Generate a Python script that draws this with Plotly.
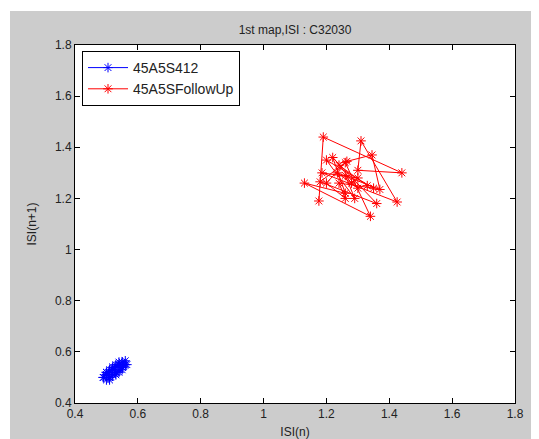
import plotly.graph_objects as go

# Blue series (45A5S412): ISI(n), ISI(n+1)
blue_x = [0.50, 0.51, 0.50, 0.52, 0.53, 0.52, 0.54, 0.55, 0.54, 0.56, 0.55, 0.53, 0.52, 0.51,
          0.49, 0.50, 0.51, 0.53, 0.54, 0.55, 0.56, 0.55, 0.54, 0.52, 0.51, 0.50, 0.49, 0.50,
          0.52, 0.53, 0.55, 0.56, 0.565, 0.55, 0.54, 0.53, 0.51, 0.50, 0.51, 0.52]
blue_y = [0.51, 0.50, 0.52, 0.53, 0.52, 0.54, 0.55, 0.54, 0.56, 0.55, 0.53, 0.52, 0.51, 0.49,
          0.50, 0.51, 0.53, 0.54, 0.55, 0.56, 0.55, 0.54, 0.52, 0.51, 0.50, 0.49, 0.50, 0.52,
          0.53, 0.55, 0.56, 0.565, 0.55, 0.54, 0.53, 0.51, 0.50, 0.51, 0.52, 0.54]

# Red series (45A5SFollowUp): ISI(n), ISI(n+1)
red_x = [1.176, 1.19, 1.44, 1.30, 1.31, 1.425, 1.186, 1.30, 1.28, 1.26, 1.29, 1.20, 1.35, 1.24,
         1.26, 1.20, 1.26, 1.34, 1.13, 1.26, 1.22, 1.36, 1.18, 1.265, 1.345, 1.37, 1.235, 1.30,
         1.24, 1.33]
red_y = [1.19, 1.44, 1.30, 1.31, 1.425, 1.186, 1.30, 1.28, 1.26, 1.29, 1.20, 1.35, 1.24, 1.26,
         1.20, 1.26, 1.34, 1.13, 1.26, 1.22, 1.36, 1.18, 1.265, 1.345, 1.37, 1.235, 1.30, 1.24,
         1.33, 1.25]

tick_vals = [0.4, 0.6, 0.8, 1.0, 1.2, 1.4, 1.6, 1.8]
tick_text = ["0.4", "0.6", "0.8", "1", "1.2", "1.4", "1.6", "1.8"]

FONT = "Liberation Sans, Arial, sans-serif"
TXT = "#222222"

fig = go.Figure()
fig.add_trace(go.Scatter(
    x=blue_x, y=blue_y, mode="lines+markers", name="45A5S412",
    line=dict(color="#0000ff", width=1),
    marker=dict(symbol="asterisk-open", size=8, color="#0000ff",
                line=dict(color="#0000ff", width=1)),
))
fig.add_trace(go.Scatter(
    x=red_x, y=red_y, mode="lines+markers", name="45A5SFollowUp",
    line=dict(color="#ff0000", width=1),
    marker=dict(symbol="asterisk-open", size=8, color="#ff0000",
                line=dict(color="#ff0000", width=1)),
))

# the page body adds an 8px white margin; figure covers the rest of the window
W, H = 531, 431
L, R, T, B = 67, 24, 37, 36
pw, ph = W - L - R, H - T - B

def px_x(p):
    return (p - L) / pw

def px_y(p):
    return (H - B - p) / ph

axis_common = dict(
    showgrid=False, zeroline=False, showline=True, linecolor="black", linewidth=1,
    mirror="ticks", ticks="inside", ticklen=5, tickcolor="black", tickwidth=1,
    tickvals=tick_vals, ticktext=tick_text, automargin=False,
    tickfont=dict(family=FONT, size=12, color=TXT),
)

fig.update_layout(
    width=W, height=H,
    margin=dict(l=L, r=R, t=T, b=B, pad=0),
    paper_bgcolor="#cccccc", plot_bgcolor="white",
    title=dict(text="1st map,ISI : C32030", x=(L + pw / 2) / W, xanchor="center",
               y=1 - 22 / H, yanchor="middle", yref="container",
               font=dict(family=FONT, size=12, color=TXT)),
    xaxis=dict(range=[0.4, 1.8], title=dict(text="ISI(n)",
               font=dict(family=FONT, size=12, color=TXT)), **axis_common),
    yaxis=dict(range=[0.4, 1.8], title=dict(text="ISI(n+1)",
               font=dict(family=FONT, size=12, color=TXT)), **axis_common),
    legend=dict(x=px_x(74), y=px_y(43), xanchor="left", yanchor="top",
                bgcolor="white", bordercolor="black", borderwidth=1,
                font=dict(family=FONT, size=14, color=TXT),
                itemwidth=40, tracegroupgap=0),
    showlegend=True,
    shapes=[
        dict(type="rect", xref="paper", yref="paper", layer="below",
             x0=px_x(0), x1=px_x(2), y0=px_y(H), y1=px_y(0),
             fillcolor="white", line=dict(width=0)),
        dict(type="rect", xref="paper", yref="paper", layer="below",
             x0=px_x(0), x1=px_x(W), y0=px_y(3), y1=px_y(0),
             fillcolor="white", line=dict(width=0)),
    ],
)

fig.write_html("out.html")
